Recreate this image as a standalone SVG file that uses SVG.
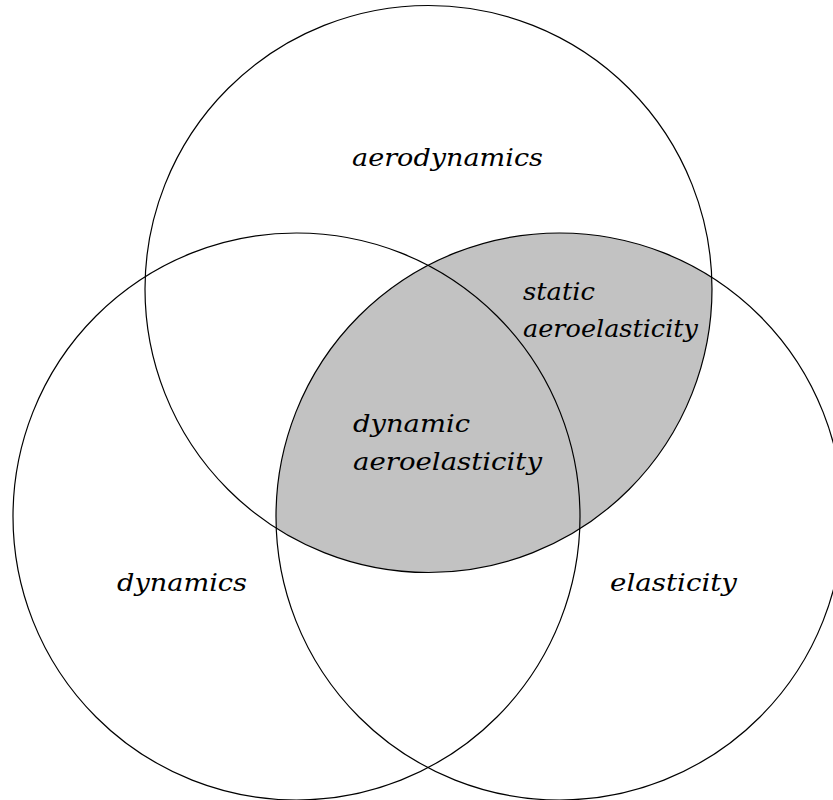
<svg xmlns="http://www.w3.org/2000/svg" width="833" height="800" viewBox="0 0 833 800">
  <style>
    .c { fill: none; stroke: #000; stroke-width: 1.2; }
    .t { font-family: 'DejaVu Serif', serif; font-style: italic; font-size: 25px; fill: #000; }
  </style>
  <defs>
    <clipPath id="topClip">
      <circle cx="428.5" cy="289" r="283.5"/>
    </clipPath>
  </defs>
  <rect width="833" height="800" fill="#fff"/>
  <g id="shade">
    <circle cx="559.5" cy="516.5" r="283.5" fill="#c2c2c2" clip-path="url(#topClip)"/>
  </g>
  <g id="aerodynamics">
    <circle class="c" cx="428.5" cy="289" r="283.5"/>
    <text class="t" x="352" y="166" textLength="191" lengthAdjust="spacingAndGlyphs">aerodynamics</text>
  </g>
  <g id="dynamics">
    <circle class="c" cx="296.5" cy="516.5" r="283.5"/>
    <text class="t" x="117" y="591" textLength="130" lengthAdjust="spacingAndGlyphs">dynamics</text>
  </g>
  <g id="elasticity">
    <circle class="c" cx="559.5" cy="516.5" r="283.5"/>
    <text class="t" x="610" y="591" textLength="127" lengthAdjust="spacingAndGlyphs">elasticity</text>
  </g>
  <g id="static-aeroelasticity">
    <text class="t" x="523" y="300" textLength="72" lengthAdjust="spacingAndGlyphs">static</text>
    <text class="t" x="523" y="337" textLength="175" lengthAdjust="spacingAndGlyphs">aeroelasticity</text>
  </g>
  <g id="dynamic-aeroelasticity">
    <text class="t" x="353" y="432" textLength="117" lengthAdjust="spacingAndGlyphs">dynamic</text>
    <text class="t" x="353" y="470" textLength="189" lengthAdjust="spacingAndGlyphs">aeroelasticity</text>
  </g>
</svg>
